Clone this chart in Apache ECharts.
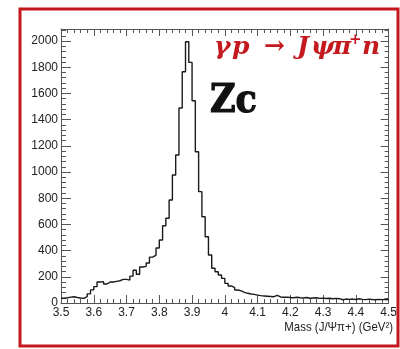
<!DOCTYPE html>
<html>
<head>
<meta charset="utf-8">
<script src="https://cdn.jsdelivr.net/npm/echarts@6/dist/echarts.min.js"></script>
<style>
html,body{margin:0;padding:0;background:#fff;}
#c{width:400px;height:349px;}
</style>
</head>
<body>
<div id="c"></div>
<script>
// Histogram: bin lower edges start at 3.50, width 0.01 GeV
const binStart = 3.5;
const binWidth = 0.01;
const counts = [
  36, 40, 45, 48, 42, 38, 36, 48, 70, 100,          // 3.50-3.59
  125, 160, 163, 145, 160, 160, 165, 170, 180, 180,  // 3.60-3.69
  175, 205, 250, 220, 275, 280, 305, 350, 365, 420,  // 3.70-3.79
  481, 590, 647, 786, 977, 1130, 1489, 1766, 1995, 1837, // 3.80-3.89
  1544, 1155, 850, 659, 506, 366, 265, 239, 214, 188,    // 3.90-3.99
  150, 130, 117, 99, 92, 81, 74, 69, 66, 60,         // 4.00-4.09
  56, 54, 52, 50, 48, 58, 46, 44, 45, 42,            // 4.10-4.19
  40, 44, 40, 38, 42, 36, 38, 40, 35, 37,            // 4.20-4.29
  34, 36, 32, 35, 33, 25, 30, 28, 30, 27,            // 4.30-4.39
  32, 28, 26, 30, 27, 25, 28, 26, 27, 24             // 4.40-4.49
];
const xTicks = ['3.5','3.6','3.7','3.8','3.9','4','4.1','4.2','4.3','4.4','4.5'];
const yTicks = [0,200,400,600,800,1000,1200,1400,1600,1800,2000];
const xTitle = 'Mass (J/\u03A8\u03C0+) (GeV\u00B2)';
const reaction = ['\u03B3', 'p', '\u2192', 'J', '\u03C8', '\u03C0', '+', 'n'];
const label = 'Zc';

const pts = counts.map((v, i) => [+(binStart + i * binWidth).toFixed(2), v]);
pts.push([+(binStart + counts.length * binWidth).toFixed(2), counts[counts.length - 1]]);

const chart = echarts.init(document.getElementById('c'), null, {renderer: 'canvas'});
const tickFont = "'Liberation Sans', Arial, sans-serif";
const axColor = '#555';
const baseAxis = {
  min: 0, max: 2092, interval: 200, type: 'value'
};
const serif = "'DejaVu Serif', serif";
const red = '#c41a1f';
const tok = (w, extra) => Object.assign({fontFamily: serif, fontSize: 25, fontWeight: 'bold', fontStyle: 'italic', fill: red, lineHeight: 27, verticalAlign: 'bottom', width: w}, extra || {});
chart.setOption({
  animation: false,
  backgroundColor: '#fff',
  grid: {left: 61, right: 7, top: 29, bottom: 46, containLabel: false},
  xAxis: [{
    type: 'value', min: 3.5, max: 4.5, interval: 0.1,
    axisLine: {onZero: false, lineStyle: {color: axColor, width: 1}},
    axisTick: {inside: true, length: 8, lineStyle: {color: axColor}},
    minorTick: {show: true, splitNumber: 5, length: 4, lineStyle: {color: axColor}},
    splitLine: {show: false},
    axisLabel: {
      color: '#222', fontFamily: tickFont, fontSize: 12, margin: 4,
      formatter: v => { const i = Math.round((v - 3.5) * 10); return xTicks[i] !== undefined ? xTicks[i] : ''; }
    }
  }, {
    type: 'value', position: 'top', min: 3.5, max: 4.5, interval: 0.1,
    axisLine: {onZero: false, lineStyle: {color: axColor, width: 1}},
    axisTick: {inside: true, length: 7, lineStyle: {color: axColor}},
    minorTick: {show: true, splitNumber: 5, length: 4, lineStyle: {color: axColor}},
    splitLine: {show: false}, axisLabel: {show: false}
  }],
  yAxis: [Object.assign({}, baseAxis, {
    axisLine: {show: true, onZero: false, lineStyle: {color: axColor, width: 1}},
    axisTick: {show: true, inside: true, length: 10, lineStyle: {color: axColor}},
    minorTick: {show: true, splitNumber: 5, length: 5, lineStyle: {color: axColor}},
    splitLine: {show: false},
    axisLabel: {
      color: '#222', fontFamily: tickFont, fontSize: 12, margin: 3,
      formatter: v => (yTicks.indexOf(v) >= 0 ? String(v) : '')
    }
  }), Object.assign({}, baseAxis, {
    position: 'right',
    axisLine: {show: true, onZero: false, lineStyle: {color: axColor, width: 1}},
    axisTick: {show: true, inside: true, length: 8, lineStyle: {color: axColor}},
    minorTick: {show: true, splitNumber: 5, length: 4, lineStyle: {color: axColor}},
    splitLine: {show: false}, axisLabel: {show: false}
  })],
  series: [{
    type: 'line', step: 'end', data: pts, symbol: 'none',
    lineStyle: {color: '#1a1a1a', width: 1.4}, clip: true
  }],
  graphic: [
    {type: 'rect', silent: true, z: 100,
     shape: {x: 20, y: 9, width: 378, height: 337},
     style: {fill: 'none', stroke: '#c4161c', lineWidth: 3}},
    {type: 'text', z: 100, x: 393, y: 321, scaleX: 0.88,
     style: {text: xTitle, fontFamily: tickFont, fontSize: 13, fill: '#222', textAlign: 'right', textVerticalAlign: 'top', align: 'right', verticalAlign: 'top'}},
    {type: 'text', z: 100, x: 214, y: 33,
     style: {
       text: '{g|' + reaction[0] + '}{p|' + reaction[1] + '}{r|' + reaction[2] + '}{j|' + reaction[3] + '}{y|' + reaction[4] + '}{q|' + reaction[5] + '}{s|' + reaction[6] + '}{n|' + reaction[7] + '}',
       rich: {
         g: tok(18), p: tok(32), r: tok(33, {fontStyle: 'normal'}), j: tok(14), y: tok(22), q: tok(16),
         s: tok(13, {fontSize: 15, fontStyle: 'normal', verticalAlign: 'top'}),
         n: tok(22)
       }
     }},
    {type: 'text', z: 100, x: 210, y: 82, scaleX: 0.9,
     style: {text: label, fontFamily: serif, fontSize: 39, fontWeight: 'bold', fill: '#111', stroke: '#111', lineWidth: 1.2}}
  ]
});
</script>
</body>
</html>
